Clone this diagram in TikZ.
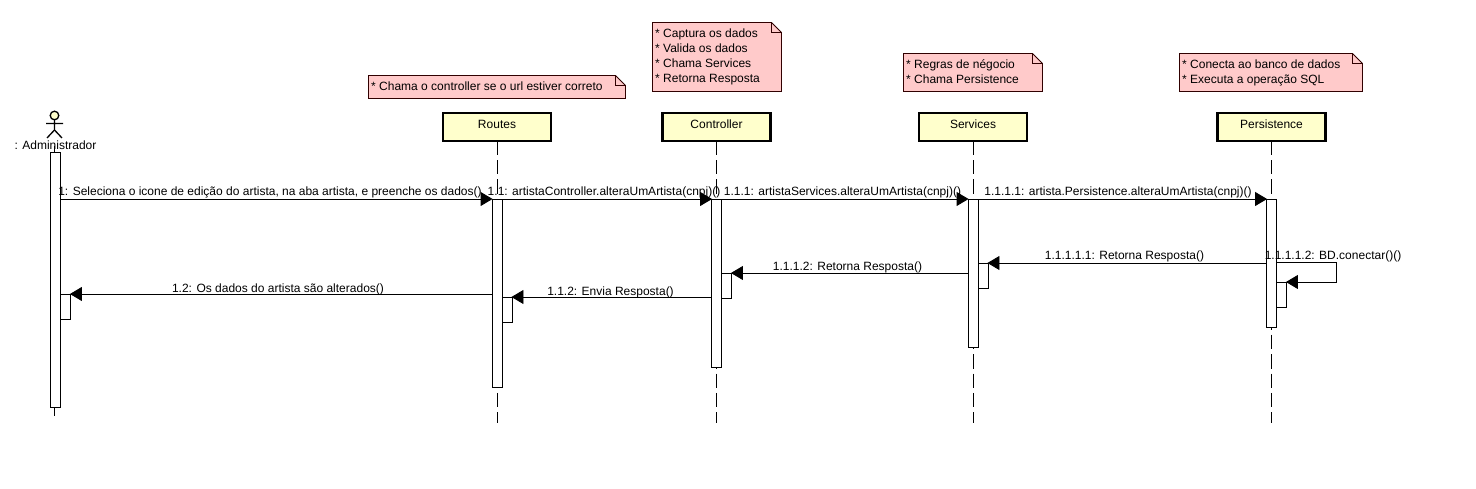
\documentclass[tikz,border=0pt]{standalone}
\usepackage{fontspec}
\setmainfont{Liberation Sans}
\usetikzlibrary{arrows.meta}
\definecolor{notefill}{HTML}{FFCACA}
\definecolor{notedraw}{HTML}{300000}
\definecolor{headfill}{HTML}{FFFFCC}
\newcommand{\notebox}[6]{%
  \draw[notedraw,fill=notefill,line width=0.8pt] (#2,#3) -- (#4-10,#3) -- (#4,#3+10) -- (#4,#5) -- (#2,#5) -- cycle;
  \draw[notedraw,line width=0.8pt] (#4-10,#3) -- (#4-10,#3+10) -- (#4,#3+10);
  \node[notetext,anchor=north west] (#1) at (#2+2.5,#3+6) {#6};
}
\tikzset{
  x=1pt,y=-1pt,
  every node/.style={font=\fontsize{12}{15}\selectfont},
  notetext/.style={inner sep=0pt,align=left},
  header/.style={draw=black,fill=headfill,line width=2.2pt,minimum width=108pt,minimum height=28pt,inner sep=0pt,text height=8pt,text depth=4.5pt},
  lifeline/.style={draw=black,line width=0.9pt,dash pattern=on 14.4pt off 5pt,dash phase=1.4pt},
  actbar/.style={draw=black,fill=white,line width=0.9pt,minimum width=10pt,inner sep=0pt,anchor=north},
  msg/.style={draw=black,line width=0.9pt,shorten >=-1pt,-{Triangle[length=12pt,width=14pt]}},
  plainline/.style={draw=black,line width=0.9pt},
  lbl/.style={inner sep=0pt,anchor=base,fill=none},
}
\begin{document}
\begin{tikzpicture}
\useasboundingbox (0,0) rectangle (1476,489);
% notes
\notebox{nr}{368.5}{75.5}{625.5}{98.5}{* Chama o controller se o url estiver correto}
\notebox{nc}{652.5}{22.5}{781.5}{91.5}{* Captura os dados\\* Valida os dados\\* Chama Services\\* Retorna Resposta}
\notebox{ns}{903.5}{53.5}{1042.5}{91.5}{* Regras de négocio\\* Chama Persistence}
\notebox{np}{1179.5}{53.5}{1362.5}{91.5}{* Conecta ao banco de dados\\* Executa a operação SQL}
% lifelines
\coordinate (la) at (54.5,146);
\coordinate (laend) at (54.5,416);
\draw[plainline] (la) -- (laend);
\node[header] (hr) at (497,127) {Routes};
\node[header] (hc) at (716.5,127) {Controller};
\node[header] (hs) at (973,127) {Services};
\node[header] (hp) at (1271.5,127) {Persistence};
\foreach \h/\e in {hr/er,hc/ec,hs/es,hp/ep}{
  \coordinate (\e) at (\h.south |- 0,423);
  \draw[lifeline] (\h.south) -- (\e);
}
% actor
\draw[black,fill=headfill,line width=1.3pt] (54.5,115.5) circle (4.3pt);
\coordinate (aneck) at (54.5,120);
\coordinate (ahip) at (54.5,130);
\draw[black,line width=1.3pt] (aneck) -- (ahip) (46,123.5) -- (63,123.5) (47,138) -- (ahip) -- (62,138);
\node[lbl] (atxt) at (55.5,150) {: Administrador};
% bars
\node[actbar,minimum height=255pt] (ba) at (55.5,152) {};
\node[actbar,minimum height=188pt] (br) at (497,199) {};
\node[actbar,minimum height=168pt] (bc) at (716.5,199) {};
\node[actbar,minimum height=148pt] (bs) at (973,199) {};
\node[actbar,minimum height=128pt] (bp) at (1271.5,199) {};
\node[actbar,minimum height=25pt] (ra) at (65.5,294) {};
\node[actbar,minimum height=25pt] (rr) at (507,297) {};
\node[actbar,minimum height=25pt] (rc) at (726.5,273) {};
\node[actbar,minimum height=25pt] (rs) at (983,263) {};
\node[actbar,minimum height=25pt] (rp) at (1281.5,282) {};
% messages
\draw[msg] (ba.east |- 0,199) -- (br.west |- 0,199);
\draw[msg] (br.east |- 0,199) -- (bc.west |- 0,199);
\draw[msg] (bc.east |- 0,199) -- (bs.west |- 0,199);
\draw[msg] (bs.east |- 0,199) -- (bp.west |- 0,199);
\draw[msg] (bp.west |- 0,263) -- (rs.east |- 0,263);
\draw[msg] (bs.west |- 0,273) -- (rc.east |- 0,273);
\draw[msg] (bc.west |- 0,297) -- (rr.east |- 0,297);
\draw[msg] (br.west |- 0,294) -- (ra.east |- 0,294);
\draw[msg] (bp.east |- 0,262) -- (1336,262) -- (1336,282) -- (rp.east |- 0,282);
% labels
\node[lbl] (m1) at (270,196) {1: Seleciona o icone de edição do artista, na aba artista, e preenche os dados()};
\node[lbl] (m2) at (604,196) {1.1: artistaController.alteraUmArtista(cnpj)()};
\node[lbl] (m3) at (842.5,196) {1.1.1: artistaServices.alteraUmArtista(cnpj)()};
\node[lbl] (m4) at (1118,196) {1.1.1.1: artista.Persistence.alteraUmArtista(cnpj)()};
\node[lbl] (m5) at (1124.5,260) {1.1.1.1.1: Retorna Resposta()};
\node[lbl] (m6) at (847.5,271) {1.1.1.2: Retorna Resposta()};
\node[lbl] (m7) at (610.5,295) {1.1.2: Envia Resposta()};
\node[lbl] (m8) at (278,292) {1.2: Os dados do artista são alterados()};
\node[lbl] (m9) at (1333,260) {1.1.1.1.2: BD.conectar()()};
\end{tikzpicture}
\end{document}
